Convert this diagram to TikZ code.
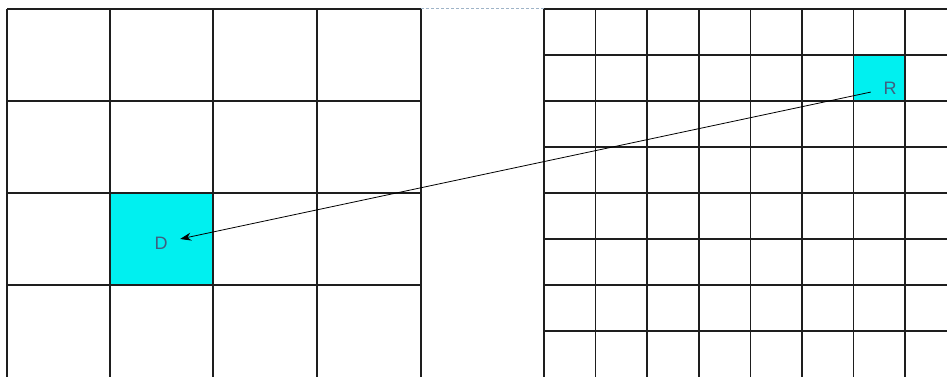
\documentclass[tikz,border=0pt]{standalone}
\usepackage{fontspec}
\setmainfont{Liberation Sans}
\usetikzlibrary{arrows.meta}
\definecolor{gridline}{HTML}{1E1E1E}
\definecolor{cellcyan}{HTML}{00F0F0}
\definecolor{labeltext}{HTML}{3F5F80}
\definecolor{dashblue}{HTML}{9FB4C8}
\tikzset{
  gridrule/.style={draw=gridline, line width=1.6pt},
  hicell/.style={fill=cellcyan},
  celllabel/.style={text=labeltext, font=\fontsize{18}{18}\selectfont, inner sep=0pt, minimum width=38pt, minimum height=12pt},
  pointer/.style={draw=black, line width=0.8pt, -{Stealth[length=11pt,width=8pt]}},
}
\begin{document}
\begin{tikzpicture}[x=1pt,y=-1pt]
\useasboundingbox (0,0) rectangle (947,376);
\fill[white] (0,0) rectangle (947,376);
% highlighted cells
\fill[hicell] (110,193) rectangle (213,285);
\fill[hicell] (853,55) rectangle (905,101);
% left coarse grid
\foreach \x in {7,110,213,317,421} \draw[gridrule] (\x,9) -- (\x,377);
\foreach \y in {9,101,193,285} \draw[gridrule] (7,\y) -- (421,\y);
% right fine grid
\foreach \k in {0,...,7} \draw[gridrule] ({544+51.6*\k},9) -- ({544+51.6*\k},377);
\foreach \k in {0,...,7} \draw[gridrule] (544,{9+46*\k}) -- (948,{9+46*\k});
% dashed top gap
\draw[dashblue, line width=1pt, dash pattern=on 3pt off 2pt] (421,8) -- (544,8);
% labels
\node[celllabel] (D) at (161,243) {D};
\node[celllabel] (R) at (890,88) {R};
\draw[pointer] (R) -- (D);
\end{tikzpicture}
\end{document}
